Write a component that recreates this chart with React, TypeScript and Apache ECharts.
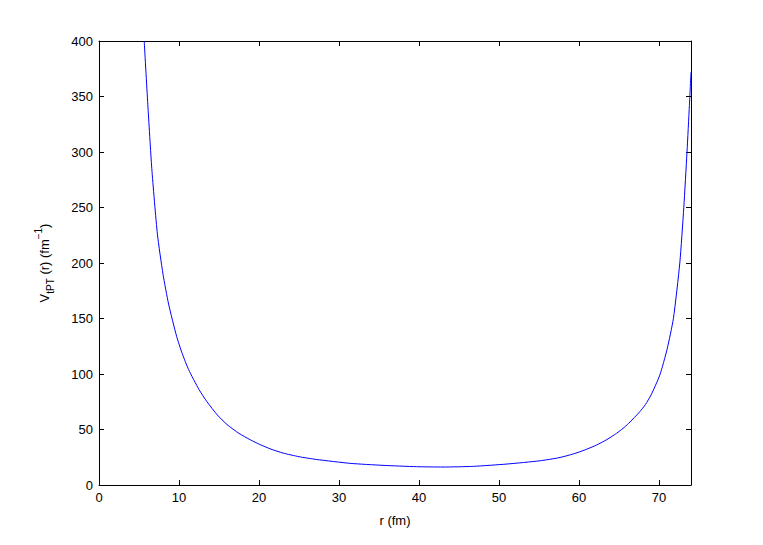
import React, { useEffect, useRef } from "react";
import * as echarts from "echarts";

const rValues = [5.65, 6.1, 6.6, 7.3, 8.0, 8.7, 9.7, 10.4, 11.2, 12.5, 13.5, 14.8, 16.0, 17.5, 18.9, 20.1, 21.5, 23.0, 25.0, 27.2, 31.4, 35.5, 39.7, 43.0, 46.8, 51.0, 55.1, 57.5, 59.3, 60.8, 62.2, 63.5, 64.7, 65.5, 66.2, 67.6, 68.3, 69.0, 70.1, 71.0, 71.8, 72.6, 73.1, 73.5, 73.8, 74.0];
const vValues = [400, 343, 285, 226, 190, 163, 134, 118.5, 104, 86, 75, 63, 54.5, 46.5, 40.8, 36.5, 32.3, 28.8, 25.5, 23, 19.5, 17.7, 16.5, 16.2, 16.8, 18.9, 21.8, 24.6, 28, 31.8, 36, 41, 46.6, 51, 55.5, 66, 72.5, 81, 99, 122, 150, 200, 250, 300, 342, 372];

const xLabel = "r (fm)";
const font = "'Liberation Sans', Arial, Helvetica, sans-serif";

export default function App() {
  const ref = useRef<HTMLDivElement>(null);
  useEffect(() => {
    if (!ref.current) return;
    const chart = echarts.init(ref.current, undefined, { renderer: "svg" });
    const data = rValues.map((r, i) => [r, vValues[i]]);
    const axisCommon = {
      axisLine: { show: true, onZero: false, lineStyle: { color: "#000", width: 1 } },
      axisTick: { show: true, inside: true, length: 5, lineStyle: { color: "#000" } },
      splitLine: { show: false },
    };
    chart.setOption({
      animation: false,
      backgroundColor: "#fff",
      grid: { left: 99, right: 72, top: 41, bottom: 60, containLabel: false },
      xAxis: [
        {
          type: "value", min: 0, max: 74, interval: 10, position: "bottom",
          ...axisCommon,
          axisLabel: { color: "#000", fontSize: 13, fontFamily: font, margin: 6, showMaxLabel: false },
          name: xLabel, nameLocation: "middle", nameGap: 29,
          nameTextStyle: { color: "#000", fontSize: 13, fontFamily: font },
        },
        {
          type: "value", min: 0, max: 74, interval: 10, position: "top",
          ...axisCommon,
          axisLabel: { show: false },
        },
      ],
      yAxis: [
        {
          type: "value", min: 0, max: 400, interval: 50, position: "left",
          ...axisCommon,
          axisLabel: { color: "#000", fontSize: 13, fontFamily: font, margin: 6 },
          name: "V{sub|tPT} (r) (fm{sup|−1})", nameLocation: "middle", nameGap: 44, nameRotate: 90,
          nameTextStyle: {
            color: "#000", fontSize: 13, fontFamily: font, lineHeight: 22,
            rich: {
              sub: { fontSize: 10, fontFamily: font, color: "#000", verticalAlign: "bottom", lineHeight: 22 },
              sup: { fontSize: 10, fontFamily: font, color: "#000", verticalAlign: "top", lineHeight: 22 },
            },
          },
        },
        {
          type: "value", min: 0, max: 400, interval: 50, position: "right",
          ...axisCommon,
          axisLabel: { show: false },
        },
      ],
      series: [
        {
          type: "line",
          xAxisIndex: 0, yAxisIndex: 0,
          data,
          showSymbol: false,
          smooth: 0.2,
          clip: true,
          lineStyle: { color: "#0000ff", width: 1 },
        },
      ],
    });
    return () => chart.dispose();
  }, []);
  return <div ref={ref} style={{ width: 763, height: 545, position: "absolute", left: 0, top: 0 }} />;
}
